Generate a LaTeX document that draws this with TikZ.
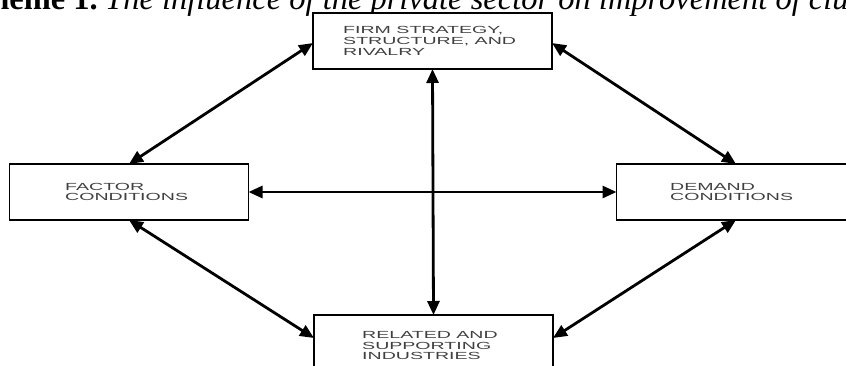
\documentclass[tikz,border=0pt]{standalone}
\usepackage{fontspec}
\setmainfont{Liberation Serif}
\newfontfamily\boxfont{Liberation Sans}
\usetikzlibrary{arrows.meta}
\newcommand{\widetxt}[1]{\scalebox{1.9}[1]{#1}}
\begin{document}
\begin{tikzpicture}[x=1pt,y=-1pt,
 box/.style={draw=black, line width=1.8pt, minimum width=239pt, minimum height=56pt, inner sep=0pt, outer sep=0pt, fill=white},
 lbl/.style={anchor=west, align=left, inner sep=0pt, font=\boxfont\fontsize{10.3}{10.6}\selectfont, text=black!75},
 link/.style={line width=2.8pt, {Triangle[length=14pt,width=12pt]}-{Triangle[length=14pt,width=12pt]}},
 ttl/.style={inner sep=0pt, font=\fontsize{32.5}{32.5}\selectfont}]
\useasboundingbox (0,0) rectangle (846,365);
\clip (0,0) rectangle (846,365);
\fill[white] (0,0) rectangle (846,365);
\node[ttl, anchor=base east] (ttlA) at (98,9) {\textbf{Scheme 1.}};
\node[ttl, anchor=base west] (ttlB) at (105,9) {\textit{The influence of the private sector on improvement of clus}};
\node[box] (fssr) at (432.5,41) {};
\node[box] (fac) at (129,192) {};
\node[box] (dem) at (736,192) {};
\node[box] (rel) at (433.5,343) {};
\node[lbl] (fssrT) at (343,41) {\widetxt{FIRM STRATEGY,}\\ \widetxt{STRUCTURE, AND}\\ \widetxt{RIVALRY}};
\node[lbl] (facT) at (65,192) {\widetxt{FACTOR}\\ \widetxt{CONDITIONS}};
\node[lbl] (demT) at (670,192) {\widetxt{DEMAND}\\ \widetxt{CONDITIONS}};
\node[lbl] (relT) at (362,345.5) {\widetxt{RELATED AND}\\ \widetxt{SUPPORTING}\\ \widetxt{INDUSTRIES}};
\draw[link] (fssr.south) -- (rel.north);
\draw[link] (fac.east) -- (dem.west);
\draw[link] (fac.north) -- ([yshift=-2pt]fssr.west);
\draw[link] ([yshift=-2pt]fssr.east) -- (dem.north);
\draw[link] (fac.south) -- ([yshift=5pt]rel.west);
\draw[link] (dem.south) -- ([yshift=5pt]rel.east);
\end{tikzpicture}
\end{document}
